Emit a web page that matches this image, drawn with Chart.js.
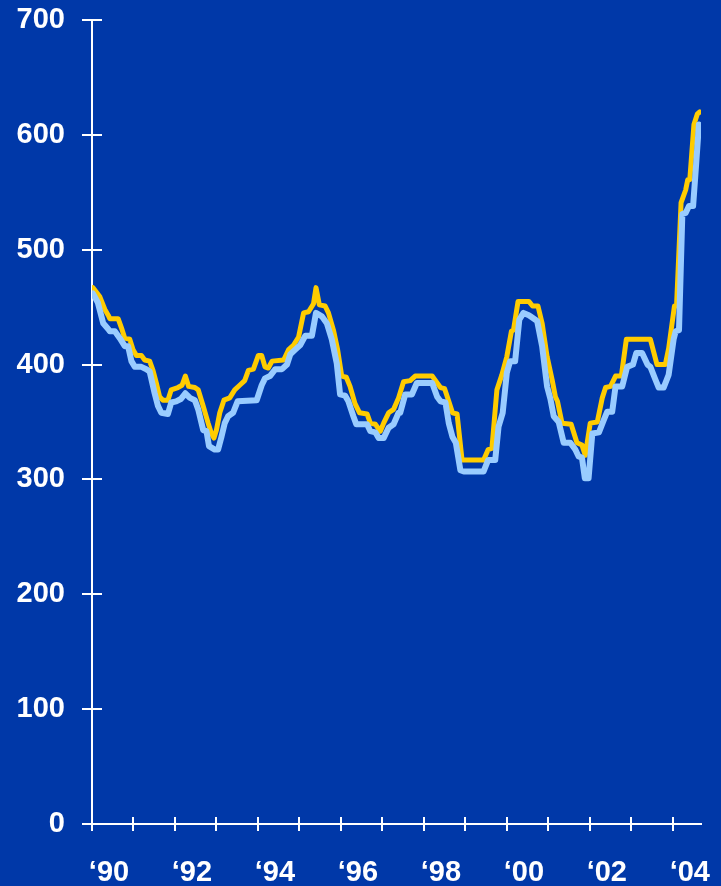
<!DOCTYPE html>
<html>
<head>
<meta charset="utf-8">
<script src="https://cdn.jsdelivr.net/npm/chart.js@4"></script>
<style>
  html, body { margin: 0; padding: 0; background: #0038A8; }
  #wrap { width: 721px; height: 886px; position: relative; }
</style>
</head>
<body>
<div id="wrap"><canvas id="chart"></canvas></div>
<script>
// tick labels
const yearTicks = [1990, 1991, 1992, 1993, 1994, 1995, 1996, 1997, 1998, 1999, 2000, 2001, 2002, 2003, 2004];
const yearLabels = ['‘90', '', '‘92', '', '‘94', '', '‘96', '', '‘98', '', '‘00', '', '‘02', '', '‘04'];

// yellow series (decimal year, value)
const yellowYears = [
  1990.02, 1990.19, 1990.31, 1990.39, 1990.43, 1990.63, 1990.71, 1990.79, 1990.91, 1990.99,
  1991.07, 1991.19, 1991.27, 1991.39, 1991.47, 1991.55, 1991.63, 1991.71, 1991.83, 1991.91,
  1992.07, 1992.17, 1992.25, 1992.33, 1992.48, 1992.56, 1992.68, 1992.80, 1992.88, 1992.94,
  1993.00, 1993.08, 1993.18, 1993.32, 1993.44, 1993.56, 1993.68, 1993.77, 1993.89, 1994.01,
  1994.09, 1994.17, 1994.25, 1994.34, 1994.62, 1994.74, 1994.86, 1994.98, 1995.10, 1995.22,
  1995.34, 1995.40, 1995.48, 1995.62, 1995.70, 1995.82, 1995.92, 1996.02, 1996.13, 1996.22,
  1996.34, 1996.45, 1996.63, 1996.71, 1996.83, 1996.95, 1997.03, 1997.15, 1997.27, 1997.39,
  1997.51, 1997.67, 1997.79, 1998.20, 1998.32, 1998.40, 1998.50, 1998.60, 1998.69, 1998.80,
  1998.92, 1999.44, 1999.55, 1999.64, 1999.76, 1999.88, 2000.00, 2000.11, 2000.16, 2000.27,
  2000.53, 2000.62, 2000.75, 2000.85, 2000.97, 2001.09, 2001.17, 2001.22, 2001.33, 2001.55,
  2001.69, 2001.81, 2001.89, 2002.01, 2002.18, 2002.30, 2002.38, 2002.50, 2002.62, 2002.76,
  2002.88, 2003.46, 2003.62, 2003.82, 2003.90, 2004.04, 2004.09, 2004.20, 2004.31, 2004.36,
  2004.41, 2004.51, 2004.59, 2004.65
];
const yellowValues = [
  467, 459, 448, 443, 440, 440, 432, 423, 422, 413,
  408, 408, 404, 403, 395, 384, 372, 369, 369, 378,
  380, 382, 390, 381, 380, 378, 364, 349, 340, 336,
  343, 358, 369, 371, 378, 382, 386, 395, 396, 408,
  408, 398, 397, 403, 404, 413, 417, 424, 445, 446,
  453, 467, 452, 451, 445, 430, 413, 390, 389, 381,
  366, 358, 357, 349, 348, 342, 349, 358, 361, 371,
  385, 386, 390, 390, 384, 380, 379, 368, 358, 357,
  317, 317, 326, 327, 378, 391, 407, 429, 430, 455,
  455, 451, 451, 436, 407, 387, 372, 368, 349, 348,
  332, 330, 321, 349, 350, 371, 380, 381, 390, 390,
  422, 422, 400, 400, 414, 451, 451, 541, 552, 561,
  561, 609, 618, 620
];

// light blue series (decimal year, value)
const blueYears = [
  1990.02, 1990.14, 1990.27, 1990.39, 1990.43, 1990.55, 1990.67, 1990.79, 1990.87, 1990.95,
  1991.03, 1991.19, 1991.31, 1991.39, 1991.51, 1991.59, 1991.67, 1991.83, 1991.91, 1992.03,
  1992.14, 1992.25, 1992.36, 1992.48, 1992.56, 1992.68, 1992.76, 1992.82, 1992.96, 1993.04,
  1993.12, 1993.20, 1993.28, 1993.40, 1993.51, 1993.97, 1994.09, 1994.17, 1994.29, 1994.42,
  1994.58, 1994.70, 1994.78, 1994.90, 1995.02, 1995.14, 1995.30, 1995.40, 1995.54, 1995.66,
  1995.78, 1995.90, 1995.98, 1996.10, 1996.18, 1996.30, 1996.37, 1996.63, 1996.71, 1996.83,
  1996.91, 1997.03, 1997.15, 1997.27, 1997.39, 1997.43, 1997.55, 1997.71, 1997.83, 1998.20,
  1998.32, 1998.40, 1998.52, 1998.60, 1998.69, 1998.77, 1998.88, 1998.96, 1999.44, 1999.55,
  1999.72, 1999.80, 1999.90, 2000.00, 2000.08, 2000.20, 2000.30, 2000.40, 2000.53, 2000.61,
  2000.73, 2000.85, 2000.97, 2001.05, 2001.13, 2001.25, 2001.37, 2001.53, 2001.65, 2001.73,
  2001.81, 2001.88, 2001.97, 2002.06, 2002.22, 2002.34, 2002.42, 2002.54, 2002.62, 2002.78,
  2002.90, 2003.04, 2003.12, 2003.26, 2003.39, 2003.46, 2003.58, 2003.66, 2003.78, 2003.90,
  2004.02, 2004.07, 2004.15, 2004.23, 2004.31, 2004.39, 2004.49, 2004.57, 2004.63
];
const blueValues = [
  462, 454, 436, 431, 429, 429, 423, 416, 416, 403,
  398, 398, 396, 394, 375, 364, 358, 357, 367, 368,
  370, 375, 371, 369, 361, 343, 342, 329, 326, 326,
  337, 349, 355, 358, 368, 369, 382, 388, 390, 396,
  396, 400, 409, 413, 417, 425, 425, 445, 442, 436,
  422, 401, 374, 373, 368, 355, 348, 348, 342, 341,
  336, 336, 345, 348, 358, 358, 374, 374, 384, 384,
  372, 368, 367, 349, 337, 332, 308, 307, 307, 317,
  317, 346, 358, 393, 403, 403, 439, 445, 443, 441,
  438, 416, 381, 370, 355, 350, 332, 332, 326, 320,
  319, 301, 301, 340, 341, 352, 359, 359, 381, 381,
  398, 400, 410, 410, 400, 398, 387, 380, 380, 391,
  422, 429, 430, 531, 532, 538, 538, 578, 609
];

const yellowData = yellowYears.map((x, i) => ({ x: x, y: yellowValues[i] }));
const blueData = blueYears.map((x, i) => ({ x: x, y: blueValues[i] }));

// ticks that cross the axis line: draw the inner half
const innerTicks = {
  id: 'innerTicks',
  afterDraw(chart) {
    const ctx = chart.ctx;
    const xs = chart.scales.x, ys = chart.scales.y;
    ctx.save();
    ctx.strokeStyle = '#ffffff';
    ctx.lineWidth = 2;
    ctx.beginPath();
    ys.ticks.forEach((t, i) => {
      const py = Math.round(ys.getPixelForTick(i));
      ctx.moveTo(ys.right, py);
      ctx.lineTo(ys.right + 10, py);
    });
    xs.ticks.forEach((t, i) => {
      const px = Math.round(xs.getPixelForTick(i));
      ctx.moveTo(px, xs.top);
      ctx.lineTo(px, xs.top - 7);
    });
    ctx.stroke();
    ctx.restore();
  }
};

const font = { family: "'Liberation Sans', Arial, sans-serif", size: 29, weight: 'bold' };

new Chart(document.getElementById('chart'), {
  type: 'line',
  data: {
    datasets: [
      {
        data: blueData,
        borderColor: '#99CCFF',
        borderWidth: 6,
        order: 1
      },
      {
        data: yellowData,
        borderColor: '#FFCC00',
        borderWidth: 5,
        order: 2
      }
    ]
  },
  options: {
    responsive: true,
    maintainAspectRatio: false,
    animation: false,
    elements: {
      point: { radius: 0 },
      line: { tension: 0, borderJoinStyle: 'round', borderCapStyle: 'round' }
    },
    layout: { padding: { top: 20, right: 20, left: 0, bottom: 0 } },
    plugins: { legend: { display: false }, tooltip: { enabled: false } },
    scales: {
      x: {
        type: 'linear',
        min: 1990,
        max: 2004.68,
        afterBuildTicks: (scale) => { scale.ticks = yearTicks.map(v => ({ value: v })); },
        afterFit: (scale) => { scale.height = 62; scale.paddingLeft = 0; scale.paddingRight = 0; },
        border: { color: '#ffffff', width: 2 },
        grid: { drawOnChartArea: false, color: '#ffffff', lineWidth: 2, tickLength: 7 },
        ticks: {
          color: '#ffffff',
          font: font,
          autoSkip: false,
          maxRotation: 0,
          padding: 25,
          labelOffset: 17,
          callback: (v) => yearLabels[yearTicks.indexOf(v)] ?? ''
        }
      },
      y: {
        min: 0,
        max: 700,
        afterFit: (scale) => { scale.width = 92; scale.paddingTop = 0; scale.paddingBottom = 0; },
        border: { color: '#ffffff', width: 2 },
        grid: { drawOnChartArea: false, color: '#ffffff', lineWidth: 2, tickLength: 10 },
        ticks: { color: '#ffffff', font: font, stepSize: 100, padding: 17 }
      }
    }
  },
  plugins: [innerTicks]
});
</script>
</body>
</html>
